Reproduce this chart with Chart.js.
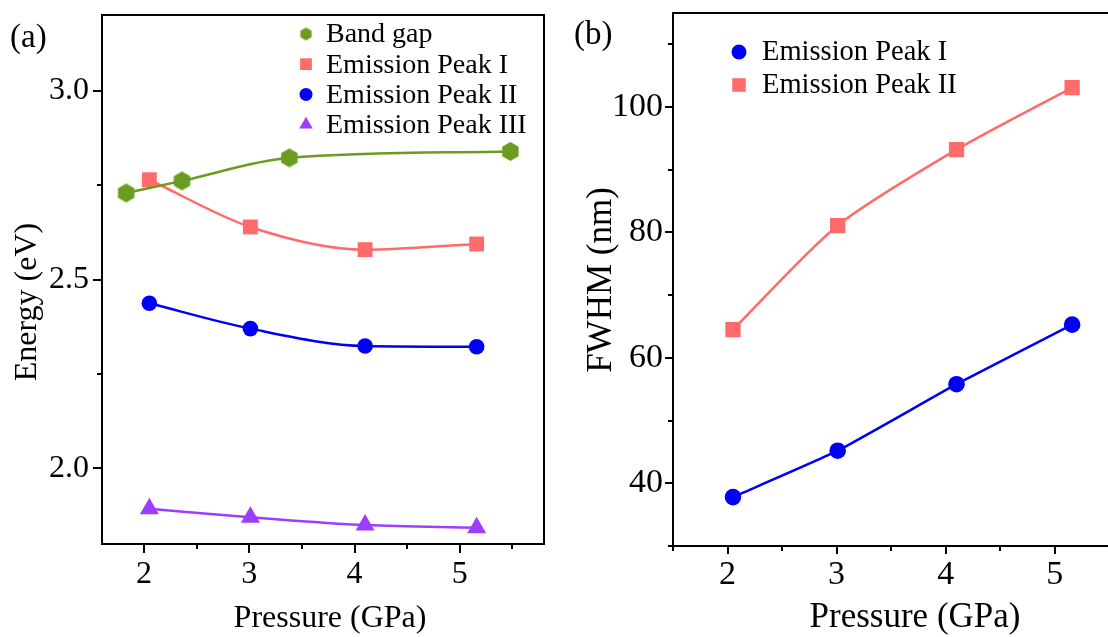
<!DOCTYPE html>
<html>
<head>
<meta charset="utf-8">
<script src="https://cdn.jsdelivr.net/npm/chart.js@4.4.1/dist/chart.umd.min.js"></script>
<style>
  html, body { margin: 0; padding: 0; background: #fff; overflow: hidden; width: 1108px; height: 637px; }
  .panel { position: absolute; top: 0; }
  .tag { position: absolute; font-family: 'Liberation Serif', serif; font-size: 33px; line-height: 32px; color: #000; }
</style>
</head>
<body>
<div class="panel" style="left:0;width:560px;height:637px"><canvas id="chartA" width="560" height="637"></canvas></div>
<div class="panel" style="left:560px;width:560px;height:637px"><canvas id="chartB" width="560" height="637"></canvas></div>
<div class="tag" style="left:10px;top:20px">(a)</div>
<div class="tag" style="left:574px;top:17px">(b)</div>
<script>
// (a) energy vs pressure
var bandGapP = [1.83, 2.36, 3.38, 5.48];
var bandGapE = [2.729, 2.761, 2.822, 2.839];
var peakP    = [2.05, 3.01, 4.10, 5.16];
var peak1E   = [2.764, 2.639, 2.579, 2.594];
var peak2E   = [2.437, 2.370, 2.324, 2.322];
var peak3E   = [1.893, 1.871, 1.850, 1.843];

// (b) FWHM vs pressure
var fwhmP  = [2.05, 3.01, 4.10, 5.16];
var fwhm1  = [37.8, 45.2, 55.8, 65.3];
var fwhm2  = [64.5, 81.1, 93.2, 103.1];

var green  = '#6a9c1f';
var pink   = '#ff6a6a';
var blue   = '#0000f5';
var purple = '#9d3dff';

function pts(xs, ys) {
  return xs.map(function(x, i) { return { x: x, y: ys[i] }; });
}

// hexagon marker (no built-in one in Chart.js)
function hexagon(r, color) {
  var c = document.createElement('canvas');
  c.width = c.height = Math.ceil(r * 2 + 2);
  var g = c.getContext('2d');
  var cx = c.width / 2;
  g.fillStyle = color;
  g.beginPath();
  for (var k = 0; k < 6; k++) {
    var a = -Math.PI / 2 + k * Math.PI / 3;
    var px = cx + r * Math.cos(a), py = cx + r * Math.sin(a);
    if (k === 0) g.moveTo(px, py); else g.lineTo(px, py);
  }
  g.closePath();
  g.fill();
  return c;
}
var hexBig = hexagon(9.5, green);

var serif = 'Liberation Serif';
Chart.defaults.font.family = serif;
Chart.defaults.color = '#000';

function near(v, step) {
  var q = v / step;
  return Math.abs(q - Math.round(q)) < 1e-6;
}

// ticks: long for labelled, short for the others, plus the top/right frame
var frameTicks = {
  id: 'frameTicks',
  afterDraw: function(chart, args, opts) {
    var ctx = chart.ctx, a = chart.chartArea;
    var xs = chart.scales.x, ys = chart.scales.y;
    ctx.save();
    ctx.strokeStyle = '#000';
    ctx.lineWidth = 2;
    ctx.beginPath();
    xs.ticks.forEach(function(t) {
      var p = Math.round(xs.getPixelForValue(t.value));
      var len = t.label ? opts.major : opts.minor;
      ctx.moveTo(p, a.bottom);
      ctx.lineTo(p, a.bottom + len);
    });
    ys.ticks.forEach(function(t) {
      var p = Math.round(ys.getPixelForValue(t.value));
      var len = t.label ? opts.major : opts.minor;
      ctx.moveTo(a.left - len, p);
      ctx.lineTo(a.left, p);
    });
    ctx.moveTo(a.left, a.top);
    ctx.lineTo(a.right, a.top);
    ctx.lineTo(a.right, a.bottom);
    ctx.stroke();
    ctx.restore();
  }
};

// axis titles at set positions
var axisTitles = {
  id: 'axisTitles',
  afterDraw: function(chart, args, opts) {
    var ctx = chart.ctx;
    ctx.save();
    ctx.fillStyle = '#000';
    ctx.font = opts.size + 'px "' + serif + '"';
    ctx.textAlign = 'center';
    ctx.textBaseline = 'alphabetic';
    ctx.fillText(chart.options.scales.x.title.text, opts.xX, opts.xY);
    ctx.translate(opts.yX, opts.yY);
    ctx.rotate(-Math.PI / 2);
    ctx.fillText(chart.options.scales.y.title.text, 0, 0);
    ctx.restore();
  }
};

// legend drawn inside the plot area
var innerLegend = {
  id: 'innerLegend',
  afterDraw: function(chart, args, opts) {
    var ctx = chart.ctx;
    ctx.save();
    chart.data.datasets.forEach(function(ds, i) {
      var x = opts.x, y = opts.y + i * opts.dy, s = opts.marker;
      ctx.fillStyle = ds.backgroundColor;
      ctx.beginPath();
      if (ds.pointStyle instanceof HTMLCanvasElement) {
        ctx.drawImage(hexagon(s * 0.5, ds.backgroundColor), x - s / 2 - 1, y - s / 2 - 1);
      } else if (ds.pointStyle === 'rect') {
        ctx.fillRect(x - s * 0.45, y - s * 0.45, s * 0.9, s * 0.9);
      } else if (ds.pointStyle === 'triangle') {
        var r = s * 0.6;
        ctx.moveTo(x, y - r);
        ctx.lineTo(x + r * 0.866, y + r / 2);
        ctx.lineTo(x - r * 0.866, y + r / 2);
        ctx.closePath();
        ctx.fill();
      } else {
        ctx.arc(x, y, s / 2, 0, Math.PI * 2);
        ctx.fill();
      }
      ctx.fillStyle = '#000';
      ctx.font = opts.size + 'px "' + serif + '"';
      ctx.textAlign = 'left';
      ctx.textBaseline = 'middle';
      ctx.fillText(ds.label, opts.textX, y + 1);
    });
    ctx.restore();
  }
};

// every multiple of step inside [min, max]
function stepTicks(step) {
  return function(scale) {
    var list = [];
    var first = Math.ceil(scale.min / step - 1e-6);
    for (var k = first; k * step <= scale.max + 1e-6; k++) {
      list.push({ value: Math.round(k * step * 1000) / 1000 });
    }
    scale.ticks = list;
  };
}

function noEdgePad(size) {
  return function(s) {
    if (s.isHorizontal()) { s.height = size; s.paddingLeft = 0; s.paddingRight = 0; }
    else { s.width = size; s.paddingTop = 0; s.paddingBottom = 0; }
  };
}

function lineSet(label, xs, ys, color, style, radius, mode, tension) {
  return {
    label: label,
    data: pts(xs, ys),
    borderColor: color,
    backgroundColor: color,
    borderWidth: 2.5,
    pointStyle: style,
    pointRadius: radius,
    pointBorderWidth: 0,
    cubicInterpolationMode: mode || 'monotone',
    tension: tension == null ? 0.4 : tension,
    fill: false
  };
}

new Chart(document.getElementById('chartA'), {
  type: 'line',
  data: {
    datasets: [
      lineSet('Band gap', bandGapP, bandGapE, green, hexBig, 9),
      lineSet('Emission Peak I', peakP, peak1E, pink, 'rect', 10.5),
      lineSet('Emission Peak II', peakP, peak2E, blue, 'circle', 7.8),
      lineSet('Emission Peak III', peakP, peak3E, purple, 'triangle', 11)
    ]
  },
  options: {
    responsive: false,
    animation: false,
    devicePixelRatio: 1,
    events: [],
    layout: { padding: { top: 15, right: 16, left: 0, bottom: 0 } },
    plugins: {
      legend: { display: false },
      tooltip: { enabled: false },
      frameTicks: { major: 9, minor: 5 },
      axisTitles: { size: 32, xX: 330, xY: 627, yX: 36, yY: 302 },
      innerLegend: { x: 306, y: 34, dy: 30.2, textX: 326, size: 28, marker: 13 }
    },
    scales: {
      x: {
        type: 'linear', min: 1.6, max: 5.8,
        title: { display: false, text: 'Pressure (GPa)' },
        afterBuildTicks: stepTicks(0.5),
        afterFit: noEdgePad(93),
        grid: { display: false, drawTicks: false },
        border: { display: true, color: '#000', width: 2 },
        ticks: {
          padding: 11, maxRotation: 0, autoSkip: false,
          font: { size: 32 }, color: '#000',
          callback: function(v) { return near(v, 1) ? String(Math.round(v)) : ''; }
        }
      },
      y: {
        type: 'linear', min: 1.8, max: 3.2,
        title: { display: false, text: 'Energy (eV)' },
        afterBuildTicks: stepTicks(0.25),
        afterFit: noEdgePad(102),
        grid: { display: false, drawTicks: false },
        border: { display: true, color: '#000', width: 2 },
        ticks: {
          padding: 13, autoSkip: false,
          font: { size: 32 }, color: '#000',
          callback: function(v) { return near(v, 0.5) ? v.toFixed(1) : ''; }
        }
      }
    }
  },
  plugins: [frameTicks, axisTitles, innerLegend]
});

new Chart(document.getElementById('chartB'), {
  type: 'line',
  data: {
    datasets: [
      lineSet('Emission Peak I', fwhmP, fwhm1, blue, 'circle', 8.3, 'default', 0.15),
      lineSet('Emission Peak II', fwhmP, fwhm2, pink, 'rect', 10.8, 'default', 0.25)
    ]
  },
  options: {
    responsive: false,
    animation: false,
    devicePixelRatio: 1,
    events: [],
    layout: { padding: { top: 13, right: 4, left: 0, bottom: 0 } },
    plugins: {
      legend: { display: false },
      tooltip: { enabled: false },
      frameTicks: { major: 8, minor: 5 },
      axisTitles: { size: 35, xX: 355, xY: 627, yX: 51, yY: 280 },
      innerLegend: { x: 179, y: 52, dy: 33, textX: 202, size: 28.5, marker: 15 }
    },
    scales: {
      x: {
        type: 'linear', min: 1.5, max: 5.5,
        title: { display: false, text: 'Pressure (GPa)' },
        afterBuildTicks: stepTicks(0.5),
        afterFit: noEdgePad(91),
        grid: { display: false, drawTicks: false },
        border: { display: true, color: '#000', width: 2 },
        ticks: {
          padding: 9, maxRotation: 0, autoSkip: false,
          font: { size: 34 }, color: '#000',
          callback: function(v) { return near(v, 1) ? String(Math.round(v)) : ''; }
        }
      },
      y: {
        type: 'linear', min: 30, max: 115,
        title: { display: false, text: 'FWHM (nm)' },
        afterBuildTicks: stepTicks(10),
        afterFit: noEdgePad(113),
        grid: { display: false, drawTicks: false },
        border: { display: true, color: '#000', width: 2 },
        ticks: {
          padding: 10, autoSkip: false,
          font: { size: 34 }, color: '#000',
          callback: function(v) { return near(v, 20) ? String(Math.round(v)) : ''; }
        }
      }
    }
  },
  plugins: [frameTicks, axisTitles, innerLegend]
});
</script>
</body>
</html>
